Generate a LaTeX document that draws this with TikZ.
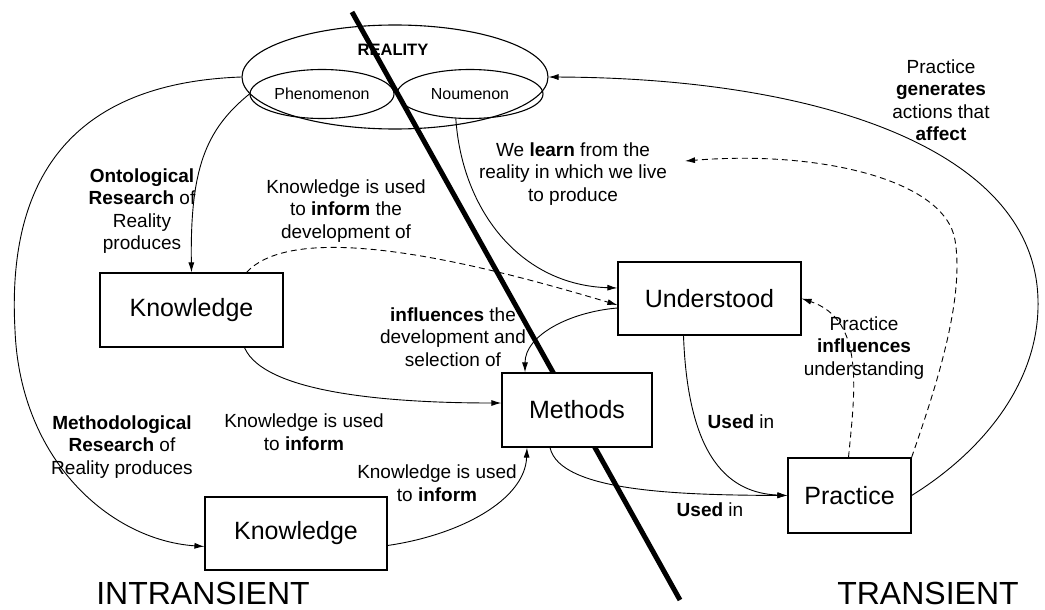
\documentclass[tikz,border=0pt]{standalone}
\usepackage{fontspec}
\setmainfont{Liberation Sans}
\usetikzlibrary{arrows.meta,shapes.geometric}
\begin{document}
\begin{tikzpicture}[x=1pt,y=-1pt,
  box/.style={draw, line width=1.2pt, fill=white, inner sep=0pt, font=\fontsize{25}{30}\selectfont},
  ell/.style={draw, ellipse, line width=1.1pt, inner sep=0pt, font=\fontsize{16}{20}\selectfont},
  lbl/.style={align=center, font=\fontsize{19}{22.5}\selectfont, inner sep=0pt},
  conn/.style={line width=0.9pt, -{Latex[length=10pt,width=6pt]}},
  dconn/.style={conn, dash pattern=on 6pt off 4pt},
  side/.style={font=\fontsize{32}{36}\selectfont, inner sep=0pt}]
\useasboundingbox (0,0) rectangle (1045,610);
\fill[white] (0,0) rectangle (1045,610);

% reality ellipses
\node[ell, minimum width=306pt, minimum height=104pt] (real) at (395,77) {};
\node[ell, minimum width=144pt, minimum height=49pt] (phen) at (322,94) {Phenomenon};
\node[ell, minimum width=146pt, minimum height=49pt] (noum) at (470,94) {Noumenon};
\node[font=\bfseries\fontsize{16.5}{20}\selectfont, inner sep=0pt] (realtxt) at (393,50) {REALITY};

% dividing line
\coordinate (divtop) at (352,12);
\coordinate (divbot) at (680,600);
\draw[line width=5pt] (divtop) -- (divbot);

% boxes
\node[box, minimum width=183pt, minimum height=74pt] (k1) at (191.5,310) {Knowledge};
\node[box, minimum width=182pt, minimum height=73pt] (k2) at (296,533.5) {Knowledge};
\node[box, minimum width=183pt, minimum height=73pt] (und) at (709.5,298.5) {Understood};
\node[box, minimum width=150pt, minimum height=74pt] (meth) at (577,410) {Methods};
\node[box, minimum width=123pt, minimum height=75pt] (prac) at (849.5,495.5) {Practice};

% labels
\node[lbl] (onto) at (142,211) {\textbf{Ontological}\\\textbf{Research} of\\Reality\\produces};
\node[lbl] (kinf1) at (346,211) {Knowledge is used\\to \textbf{inform} the\\development of};
\node[lbl] (learn) at (573,174) {We \textbf{learn} from the\\reality in which we live\\to produce};
\node[lbl] (infl) at (453,337) {\textbf{influences} the\\development and\\selection of};
\node[lbl] (kinf2) at (304,432) {Knowledge is used\\to \textbf{inform}};
\node[lbl] (methres) at (122,447) {\textbf{Methodological}\\\textbf{Research} of\\Reality produces};
\node[lbl] (kinf3) at (437,483) {Knowledge is used\\to \textbf{inform}};
\node[lbl] (used1) at (741,422) {\textbf{Used} in};
\node[lbl] (used2) at (710,510) {\textbf{Used} in};
\node[lbl] (pinf) at (864,348) {Practice\\\textbf{influences}\\understanding};
\node[lbl] (pgen) at (941,100) {Practice\\\textbf{generates}\\actions that\\\textbf{affect}};
\node[side] (intr) at (203,593) {INTRANSIENT};
\node[side] (trans) at (928,593) {TRANSIENT};

\coordinate (learnpt) at (685,161);

% connectors
\draw[conn] (real.west) .. controls (100,82) and (5,150) .. (15,330)
  .. controls (20,460) and (110,540) .. ([yshift=-13pt]k2.west);
\draw[conn] (phen.west) .. controls (205,130) and (190,170) .. (k1.north);
\draw[dconn] ([xshift=55pt]k1.north) .. controls (300,215) and (500,270) .. ([yshift=-6.5pt]und.west);
\draw[conn] (noum.240) .. controls (462,210) and (520,285) .. ([yshift=10.5pt]und.west);
\draw[conn] ([yshift=-9.5pt]und.west) .. controls (570,312) and (525,335) .. ([xshift=-52pt]meth.north);
\draw[conn] ([xshift=53pt]k1.south) .. controls (265,395) and (400,403) .. ([yshift=7pt]meth.west);
\draw[conn] ([yshift=-12pt]k2.east) .. controls (460,535) and (525,500) .. ([xshift=-50pt]meth.south);
\draw[conn] ([xshift=-27pt]meth.south) .. controls (560,492) and (680,495) .. (prac.west);
\draw[conn] ([xshift=-26pt]und.south) .. controls (688,460) and (730,493) .. (prac.west);
\draw[dconn] ([xshift=-1pt]prac.north) .. controls (855,390) and (865,320) .. (und.east);
\draw[dconn] (prac.north east) .. controls (935,390) and (965,300) .. (955,240)
  .. controls (945,180) and (820,150) .. (learnpt);
\draw[conn] (prac.east) .. controls (985,450) and (1040,380) .. (1038,300)
  .. controls (1035,150) and (820,78) .. (real.east);
\end{tikzpicture}
\end{document}
